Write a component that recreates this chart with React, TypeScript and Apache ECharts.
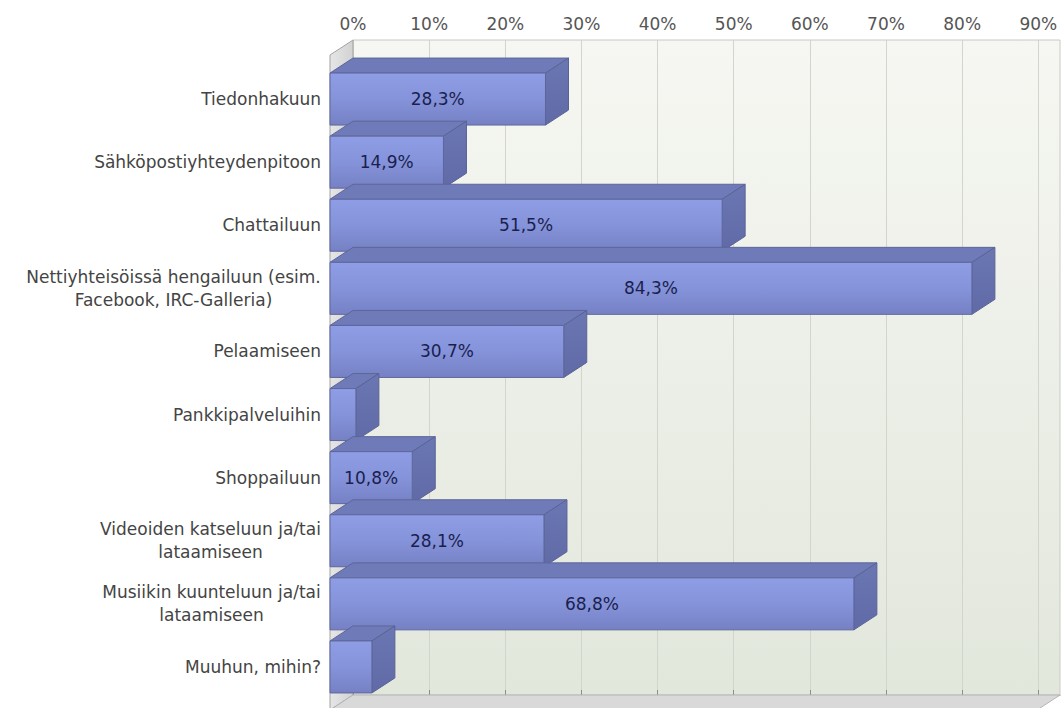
import React, { useEffect, useRef } from "react";
import * as echarts from "echarts";

const categories = [
  "Tiedonhakuun",
  "Sähköpostiyhteydenpitoon",
  "Chattailuun",
  "Nettiyhteisöissä hengailuun (esim.\nFacebook, IRC-Galleria)",
  "Pelaamiseen",
  "Pankkipalveluihin",
  "Shoppailuun",
  "Videoiden katseluun ja/tai\nlataamiseen",
  "Musiikin kuunteluun ja/tai\nlataamiseen",
  "Muuhun, mihin?",
];
const values = [28.3, 14.9, 51.5, 84.3, 30.7, 3.4, 10.8, 28.1, 68.8, 5.5];
const tickValues = [0, 10, 20, 30, 40, 50, 60, 70, 80, 90];
const axisMax = 92.85;

const FONT = '"DejaVu Sans", Verdana, sans-serif';
const LABEL_SIZE = 17;

function measure(text: string, font: string): number {
  const c = document.createElement("canvas");
  const ctx = c.getContext("2d");
  if (!ctx) return text.length * 9;
  ctx.font = font;
  return ctx.measureText(text).width;
}

export default function App() {
  const ref = useRef<HTMLDivElement>(null);

  useEffect(() => {
    if (!ref.current) return;
    const chart = echarts.init(ref.current, null, { renderer: "svg" });

    const DX = 23;
    const DY = 15;

    const rich: Record<string, any> = {};
    categories.forEach((c, i) => {
      const lines = c.split("\n");
      if (lines.length > 1) {
        const w = Math.ceil(
          Math.max(...lines.map((l) => measure(l, `${LABEL_SIZE}px ${FONT}`)))
        );
        rich["w" + i] = {
          width: w,
          align: "center",
          fontSize: LABEL_SIZE,
          fontFamily: FONT,
          color: "#444444",
          lineHeight: 23,
        };
      }
    });

    const renderItem = (params: any, api: any) => {
      const v = api.value(0);
      const idx = api.value(1);
      const p0 = api.coord([0, idx]);
      const p1 = api.coord([v, idx]);
      const band = api.size([0, 1])[1];
      const h = band * 0.824;
      const x0 = p0[0];
      const x1 = p1[0];
      const yt = p0[1] - h / 2;
      const yb = p0[1] + h / 2;
      const children: any[] = [
        {
          type: "polygon",
          shape: {
            points: [
              [x0, yt],
              [x0 + DX, yt - DY],
              [x1 + DX, yt - DY],
              [x1, yt],
            ],
          },
          style: { fill: "#6f7bb8", stroke: "#5d6699", lineWidth: 1 },
        },
        {
          type: "polygon",
          shape: {
            points: [
              [x1, yt],
              [x1 + DX, yt - DY],
              [x1 + DX, yb - DY],
              [x1, yb],
            ],
          },
          style: {
            fill: new echarts.graphic.LinearGradient(0, 0, 0, 1, [
              { offset: 0, color: "#6b77b3" },
              { offset: 1, color: "#5f6aa6" },
            ]),
            stroke: "#5a6395",
            lineWidth: 1,
          },
        },
        {
          type: "rect",
          shape: { x: x0, y: yt, width: x1 - x0, height: h },
          style: {
            fill: new echarts.graphic.LinearGradient(0, 0, 0, 1, [
              { offset: 0, color: "#8e9de5" },
              { offset: 0.5, color: "#8593da" },
              { offset: 1, color: "#7681c4" },
            ]),
            stroke: "#5e679c",
            lineWidth: 1,
          },
        },
      ];
      if (v >= 8) {
        children.push({
          type: "text",
          x: (x0 + x1) / 2,
          y: p0[1],
          style: {
            text: String(v.toFixed(1)).replace(".", ",") + "%",
            align: "center",
            textAlign: "center",
            verticalAlign: "middle",
            textVerticalAlign: "middle",
            fill: "#1a1f4f",
            fontSize: 17,
            fontWeight: "normal",
            fontFamily: FONT,
          },
        });
      }
      return { type: "group", children };
    };

    const option: any = {
      animation: false,
      backgroundColor: "#ffffff",
      grid: [
        {
          left: 353,
          top: 40,
          width: 707,
          height: 655,
          show: true,
          backgroundColor: new echarts.graphic.LinearGradient(0, 0, 0, 1, [
            { offset: 0, color: "#f6f7f2" },
            { offset: 1, color: "#e2e7dc" },
          ]),
          borderColor: "#c9cac3",
          borderWidth: 1,
        },
        {
          left: 330,
          top: 67.5,
          width: 707,
          height: 631,
          show: false,
        },
      ],
      xAxis: [
        {
          gridIndex: 0,
          type: "value",
          position: "top",
          min: 0,
          max: axisMax,
          interval: 10,
          axisLine: { show: true, lineStyle: { color: "#8c8c8c", width: 1 } },
          axisTick: {
            show: true,
            length: 5,
            customValues: tickValues,
            lineStyle: { color: "#8c8c8c" },
          },
          axisLabel: {
            customValues: tickValues,
            formatter: "{value}%",
            fontSize: LABEL_SIZE,
            fontFamily: FONT,
            color: "#555555",
            margin: 8,
          },
          splitLine: { show: true, lineStyle: { color: "#d3d5cc", width: 1 } },
        },
        {
          gridIndex: 1,
          type: "value",
          min: 0,
          max: axisMax,
          show: false,
        },
      ],
      yAxis: [
        { gridIndex: 0, type: "value", show: false },
        {
          gridIndex: 1,
          type: "category",
          inverse: true,
          data: categories,
          axisLine: { show: false },
          axisTick: { show: false },
          splitLine: { show: false },
          axisLabel: {
            margin: 9,
            fontSize: LABEL_SIZE,
            fontFamily: FONT,
            color: "#444444",
            lineHeight: 23,
            rich,
            formatter: (val: string, i: number) => {
              const lines = val.split("\n");
              if (lines.length === 1) return val;
              return lines.map((l) => `{w${i}|${l}}`).join("\n");
            },
          },
        },
      ],
      graphic: [
        {
          type: "polygon",
          z: 1,
          shape: {
            points: [
              [330, 55],
              [353, 40],
              [353, 695],
              [330, 710],
            ],
          },
          style: {
            fill: new echarts.graphic.LinearGradient(0, 0, 1, 0, [
              { offset: 0, color: "#e6e6e6" },
              { offset: 1, color: "#d2d2d2" },
            ]),
            stroke: "#a3a3a3",
            lineWidth: 1,
          },
        },
        {
          type: "polygon",
          z: 1,
          shape: {
            points: [
              [353, 695],
              [1060, 695],
              [1037, 710],
              [330, 710],
            ],
          },
          style: { fill: "#d9d9d9", stroke: "#b5b5b5", lineWidth: 1 },
        },
      ],
      series: [
        {
          type: "custom",
          xAxisIndex: 1,
          yAxisIndex: 1,
          z: 5,
          renderItem,
          encode: { x: 0, y: 1 },
          data: values.map((v, i) => [v, i]),
        },
      ],
    };

    chart.setOption(option);
    return () => chart.dispose();
  }, []);

  return (
    <div
      ref={ref}
      style={{ position: "fixed", left: 0, top: 0, width: 1062, height: 708 }}
    />
  );
}
